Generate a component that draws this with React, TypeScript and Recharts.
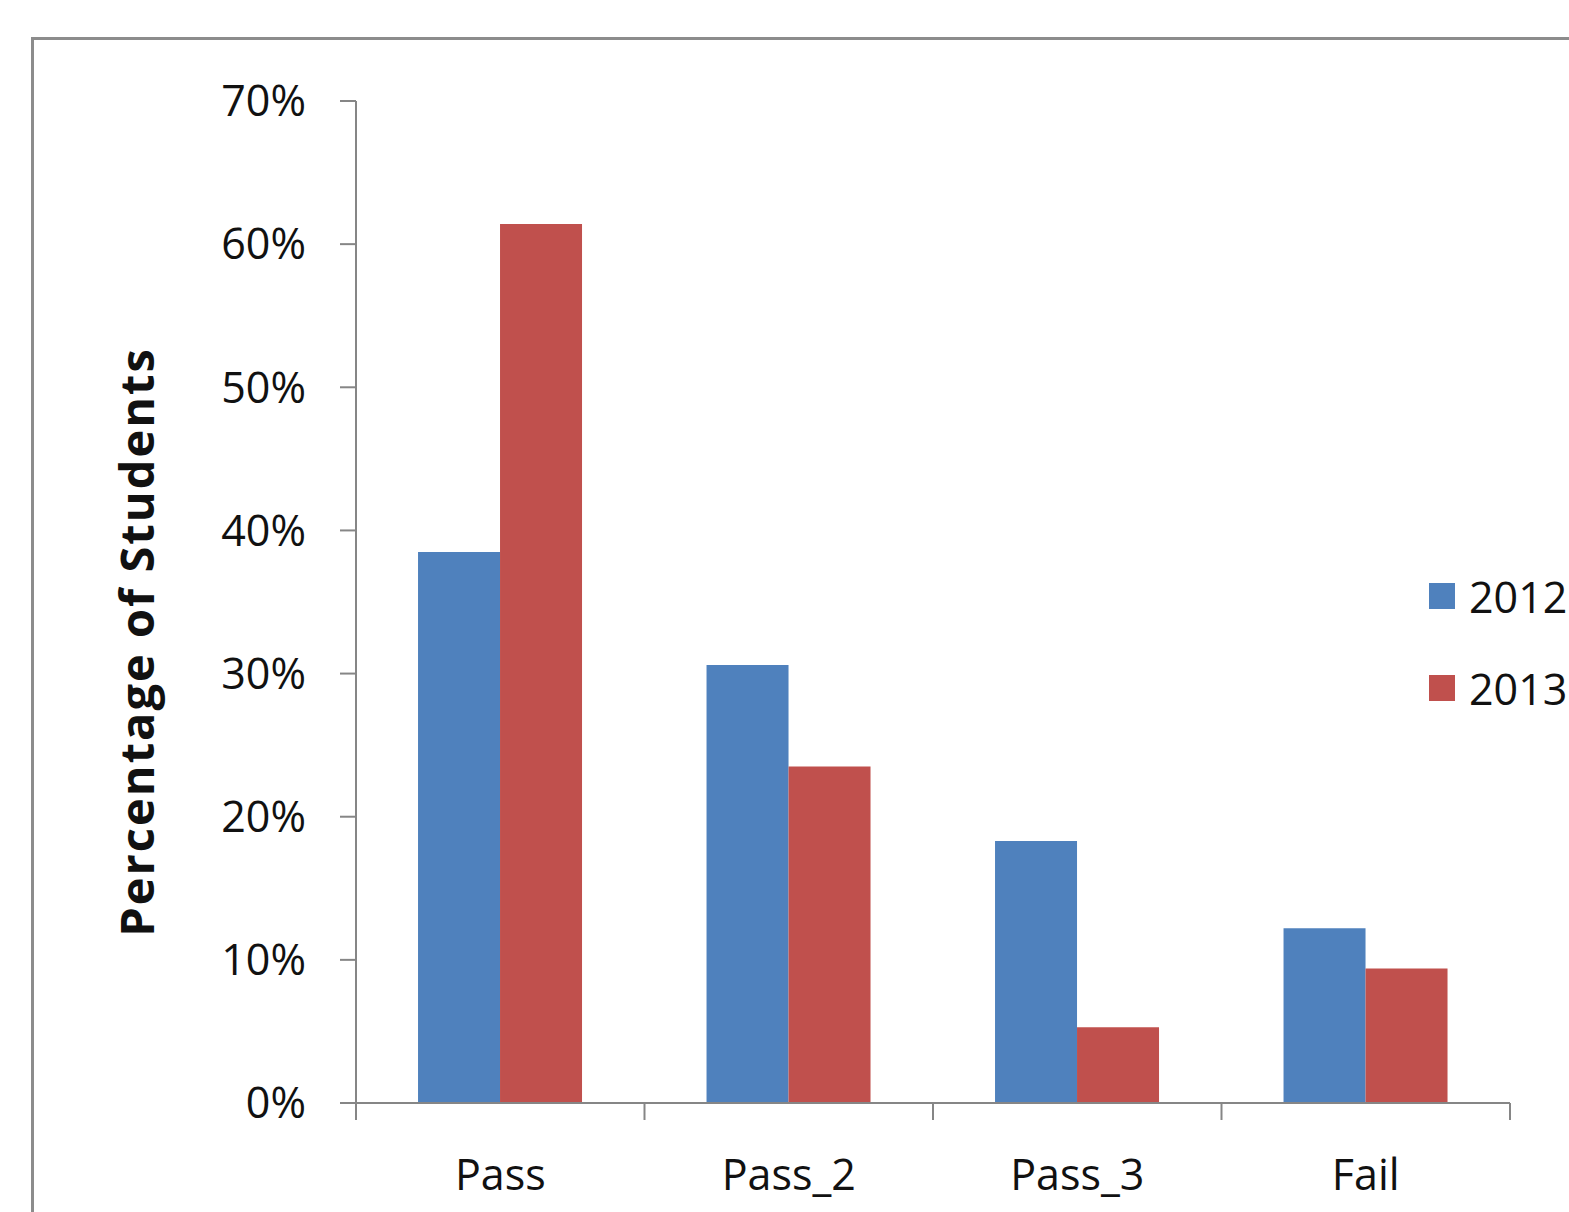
import { Bar, BarChart, Legend, XAxis, YAxis } from "recharts";

const categories = ["Pass", "Pass_2", "Pass_3", "Fail"];
const values2012 = [38.5, 30.6, 18.3, 12.2];
const values2013 = [61.4, 23.5, 5.3, 9.4];
const yTicks = [0, 10, 20, 30, 40, 50, 60, 70];

const data = categories.map((name, i) => ({
  name,
  y2012: values2012[i],
  y2013: values2013[i],
}));

const BLUE = "#4f81bd";
const RED = "#c0504d";
const AXIS = "#868686";
const TEXT = "#111111";
const FONT = "'Open Sans', 'Noto Sans', sans-serif";

const WIDTH = 1569;
const HEIGHT = 1212;
const PLOT_LEFT = 356;
const PLOT_RIGHT = 1510;
const X_TICK_SIZE = 17;
const X_TICK_MARGIN = 39;

// category axis: ticks sit on the boundaries between groups, labels in the middle
function CategoryTick(props: any) {
  const { x, y, payload, index } = props;
  const half = payload?.offset ?? (PLOT_RIGHT - PLOT_LEFT) / categories.length / 2;
  const end = y - X_TICK_MARGIN;
  const start = end - X_TICK_SIZE;
  return (
    <g>
      <line x1={x - half} x2={x - half} y1={start} y2={end} stroke={AXIS} strokeWidth={2} />
      {index === categories.length - 1 && (
        <line x1={x + half} x2={x + half} y1={start} y2={end} stroke={AXIS} strokeWidth={2} />
      )}
      <text x={x} y={y} dy="0.71em" textAnchor="middle" fill={TEXT} fontSize={43} fontFamily={FONT}>
        {payload.value}
      </text>
    </g>
  );
}

function YTitle(props: any) {
  const { viewBox } = props;
  const cx = viewBox.x + 136;
  const cy = viewBox.y + viewBox.height / 2 + 40;
  return (
    <text
      x={cx}
      y={cy}
      transform={`rotate(-90, ${cx}, ${cy})`}
      textAnchor="middle"
      dominantBaseline="central"
      fontSize={47}
      fontWeight="bold"
      letterSpacing={2}
      fontFamily={FONT}
      fill={TEXT}
    >
      Percentage of Students
    </text>
  );
}

function SeriesLegend(props: any) {
  const { payload } = props;
  return (
    <div style={{ fontFamily: FONT, fontSize: 43, color: TEXT }}>
      {(payload || []).map((entry: any) => (
        <div key={entry.value} style={{ display: "flex", alignItems: "center", height: 92 }}>
          <span style={{ width: 26, height: 26, background: entry.color, marginRight: 14 }} />
          <span>{entry.value}</span>
        </div>
      ))}
    </div>
  );
}

export default function App() {
  return (
    <div
      style={{
        position: "absolute",
        left: 0,
        top: 0,
        width: WIDTH,
        height: HEIGHT,
        overflow: "hidden",
        background: "#ffffff",
      }}
    >
      <div
        style={{
          position: "absolute",
          left: 31,
          top: 37,
          width: 1700,
          height: 1300,
          border: "3px solid #8c8c8c",
        }}
      />
      <div style={{ position: "absolute", left: 0, top: 0 }}>
        <BarChart
          width={WIDTH}
          height={HEIGHT}
          data={data}
          margin={{ top: 101, right: WIDTH - PLOT_RIGHT, bottom: 0, left: 0 }}
          barCategoryGap="21.5%"
          barGap={0}
        >
          <XAxis
            dataKey="name"
            height={109}
            stroke={AXIS}
            strokeWidth={2}
            tickLine={false}
            tickSize={X_TICK_SIZE}
            tickMargin={X_TICK_MARGIN}
            tick={<CategoryTick />}
            interval={0}
          />
          <YAxis
            width={PLOT_LEFT}
            domain={[0, 70]}
            ticks={yTicks}
            tickFormatter={(v: number) => `${v}%`}
            stroke={AXIS}
            strokeWidth={2}
            tickSize={16}
            tickMargin={34}
            tick={{ fill: TEXT, fontSize: 43, fontFamily: FONT }}
            label={<YTitle />}
          />
          <Legend
            layout="vertical"
            align="center"
            verticalAlign="middle"
            wrapperStyle={{ left: 1429, top: 550, width: 200 }}
            content={<SeriesLegend />}
          />
          <Bar dataKey="y2012" name="2012" fill={BLUE} isAnimationActive={false} />
          <Bar dataKey="y2013" name="2013" fill={RED} isAnimationActive={false} />
        </BarChart>
      </div>
    </div>
  );
}
